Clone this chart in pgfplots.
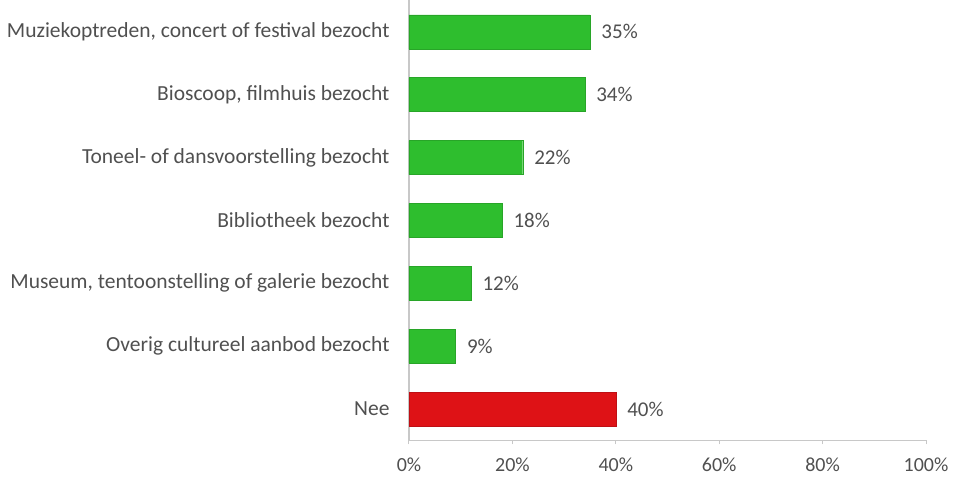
\documentclass[border=0pt]{standalone}
\usepackage{pgfplots}
\pgfplotsset{compat=1.18}
\usepackage{fontspec}
\setmainfont{Carlito}
\definecolor{bargreen}{RGB}{46,190,46}
\definecolor{bargreenedge}{RGB}{40,165,40}
\definecolor{barred}{RGB}{222,18,22}
\definecolor{barrededge}{RGB}{190,15,20}
\definecolor{txt}{RGB}{80,80,80}
\definecolor{axisgray}{RGB}{200,200,200}
\begin{document}
\begin{tikzpicture}
\useasboundingbox (-409bp,-37.6bp) rectangle (544bp,440.4bp);
\begin{axis}[
  scale only axis,
  width=517bp, height=440bp,
  xmin=0, xmax=100,
  ymin=-0.5, ymax=6.5,
  xbar, bar width=34bp, bar shift=0pt,
  axis x line*=bottom, axis y line*=left,
  axis line style={axisgray, line width=1.2pt},
  xtick={0,20,40,60,80,100},
  xticklabel={\pgfmathprintnumber{\tick}\%},
  /pgf/number format/assume math mode=true,
  ytick={0,1,2,3,4,5,6},
  yticklabels={Nee,Overig cultureel aanbod bezocht,{Museum, tentoonstelling of galerie bezocht},Bibliotheek bezocht,Toneel- of dansvoorstelling bezocht,{Bioscoop, filmhuis bezocht},{Muziekoptreden, concert of festival bezocht}},
  yticklabel style={font=\fontsize{21.5bp}{24bp}\selectfont, text=txt, xshift=-12bp},
  xticklabel style={font=\fontsize{20bp}{23bp}\selectfont, text=txt, yshift=-10bp},
  major tick length=4bp,
  xtick style={axisgray, line width=1pt},
  ytick style={draw=none},
  tick align=outside,
  clip=false,
  nodes near coords={\pgfmathprintnumber{\pgfplotspointmeta}\%},
  nodes near coords style={font=\fontsize{21bp}{24bp}\selectfont, text=txt, xshift=8bp},
  point meta=x,
]
\addplot[fill=bargreen, draw=bargreenedge] coordinates {(9,1) (12,2) (18,3) (22,4) (34,5) (35,6)};
\addplot[fill=barred, draw=barrededge] coordinates {(40,0)};
\end{axis}
\end{tikzpicture}
\end{document}
